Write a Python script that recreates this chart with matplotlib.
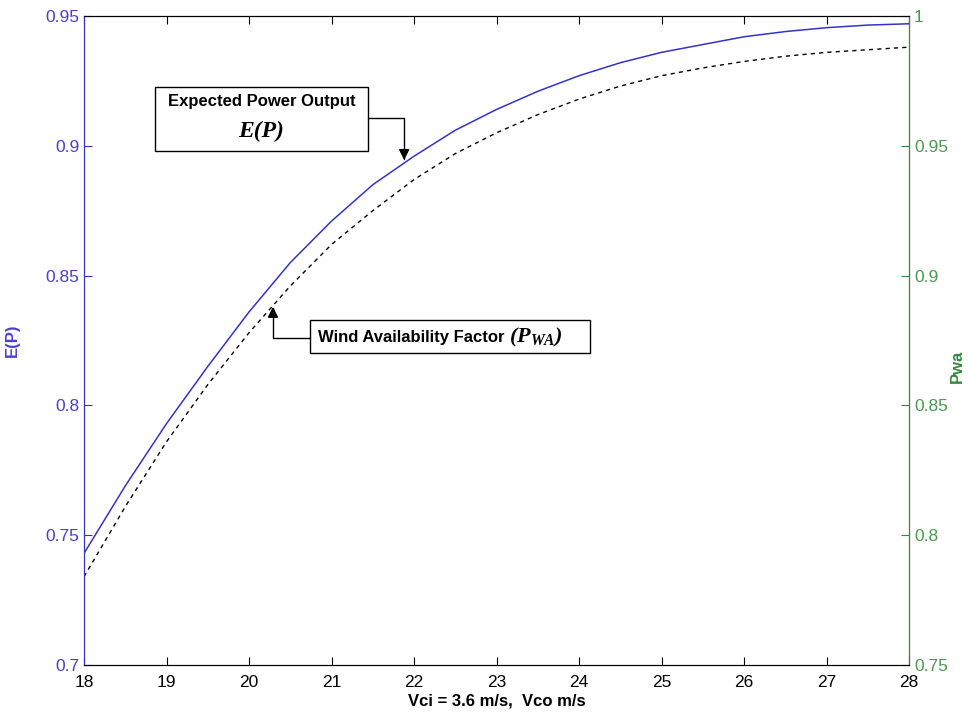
import matplotlib.pyplot as plt
from matplotlib.patches import Rectangle

plt.rcParams["font.family"] = ["Liberation Sans", "DejaVu Sans"]
plt.rcParams["mathtext.fontset"] = "custom"
plt.rcParams["mathtext.it"] = "Liberation Serif:italic:bold"
plt.rcParams["mathtext.rm"] = "Liberation Serif:italic:bold"

# cut-out wind speed (m/s)
vco = [18, 18.5, 19, 19.5, 20, 20.5, 21, 21.5, 22, 22.5, 23, 23.5, 24, 24.5,
       25, 25.5, 26, 26.5, 27, 27.5, 28]
# expected power output E(P), left axis
ep = [0.743, 0.769, 0.793, 0.815, 0.836, 0.855, 0.871, 0.885, 0.896, 0.906,
      0.914, 0.921, 0.927, 0.932, 0.936, 0.939, 0.942, 0.944, 0.9455, 0.9465, 0.947]
# wind availability factor Pwa, right axis
pwa = [0.784, 0.811, 0.836, 0.858, 0.878, 0.896, 0.912, 0.925, 0.937, 0.947,
       0.955, 0.962, 0.968, 0.973, 0.977, 0.980, 0.9825, 0.9845, 0.986, 0.987, 0.988]

xticks = list(range(18, 29))
ep_ticks = [0.7, 0.75, 0.8, 0.85, 0.9, 0.95]
pwa_ticks = [0.75, 0.8, 0.85, 0.9, 0.95, 1]

blue = "#3333cc"
blue_txt = "#4a40d0"
green = "#2e8b3a"
green_txt = "#4a9a50"

fig = plt.figure(figsize=(9.69, 7.17), dpi=100)
ax = fig.add_axes([0.0867, 0.0725, 0.8515, 0.9052])
ax2 = ax.twinx()

ax.plot(vco, ep, color=blue, lw=1.1)
ax2.plot(vco, pwa, color="black", lw=1.0, dashes=(3, 3))

ax.set_xlim(18, 28)
ax.set_ylim(0.7, 0.95)
ax2.set_ylim(0.75, 1.0)
ax.set_xticks(xticks)
ax.set_yticks(ep_ticks, [f"{t:g}" for t in ep_ticks])
ax2.set_yticks(pwa_ticks, [f"{t:g}" for t in pwa_ticks])

ax.tick_params(axis="x", direction="in", top=True, length=6, labelsize=12.5, pad=7)
ax.tick_params(axis="y", direction="in", length=6, colors=blue, labelcolor=blue_txt,
               labelsize=12.5)
ax2.tick_params(axis="y", direction="in", length=6, colors=green, labelcolor=green_txt,
                labelsize=12.5)

ax.spines["left"].set_color(blue)
ax2.spines["left"].set_color(blue)
ax2.spines["right"].set_color(green)
for a in (ax, ax2):
    a.spines["top"].set_color("black")
    a.spines["bottom"].set_color("black")

ax.set_xlabel("Vci = 3.6 m/s,  Vco m/s", fontsize=12, fontweight="bold", labelpad=3)
ax.set_ylabel("E(P)", fontsize=12, fontweight="bold", color=blue_txt)
ax.yaxis.set_label_coords(-0.078, 0.5)
ax2.set_ylabel("Pwa", fontsize=12, fontweight="bold", color=green, rotation=90)
ax2.yaxis.set_label_coords(1.05, 0.46)

arrow = dict(arrowstyle="-|>", color="black", lw=1, mutation_scale=16,
             shrinkA=0, shrinkB=0, connectionstyle="angle,angleA=0,angleB=90,rad=0")

# annotation 1: expected power output
ax2.add_patch(Rectangle((18.86, 0.898), 21.44 - 18.86, 0.0245,
                        transform=ax.transData, fc="white", ec="black", lw=1, zorder=5))
ax2.text(20.15, 0.9172, "Expected Power Output", transform=ax.transData, ha="center",
         va="center", fontsize=12, fontweight="bold", zorder=6)
ax2.text(20.15, 0.9055, "E(P)", transform=ax.transData, ha="center", va="center",
         fontsize=17, family="Liberation Serif", style="italic", fontweight="bold",
         zorder=6)
ax2.annotate("", xy=(21.88, 0.8945), xytext=(21.44, 0.9107),
             xycoords=ax.transData, textcoords=ax.transData,
             arrowprops=arrow, zorder=6)

# annotation 2: wind availability factor
ax2.add_patch(Rectangle((20.74, 0.8201), 24.13 - 20.74, 0.0127,
                        transform=ax.transData, fc="white", ec="black", lw=1, zorder=5))
t1 = ax2.text(20.84, 0.8262, "Wind Availability Factor ", transform=ax.transData,
              ha="left", va="center", fontsize=12, fontweight="bold", zorder=6)
ax2.annotate(r"$(P_{WA})$", xy=(1, 0.5), xycoords=t1, ha="left", va="center",
             fontsize=16, zorder=6)
ax2.annotate("", xy=(20.29, 0.838), xytext=(20.74, 0.826),
             xycoords=ax.transData, textcoords=ax.transData,
             arrowprops=arrow, zorder=6)

fig.savefig("out.png", dpi=100)
